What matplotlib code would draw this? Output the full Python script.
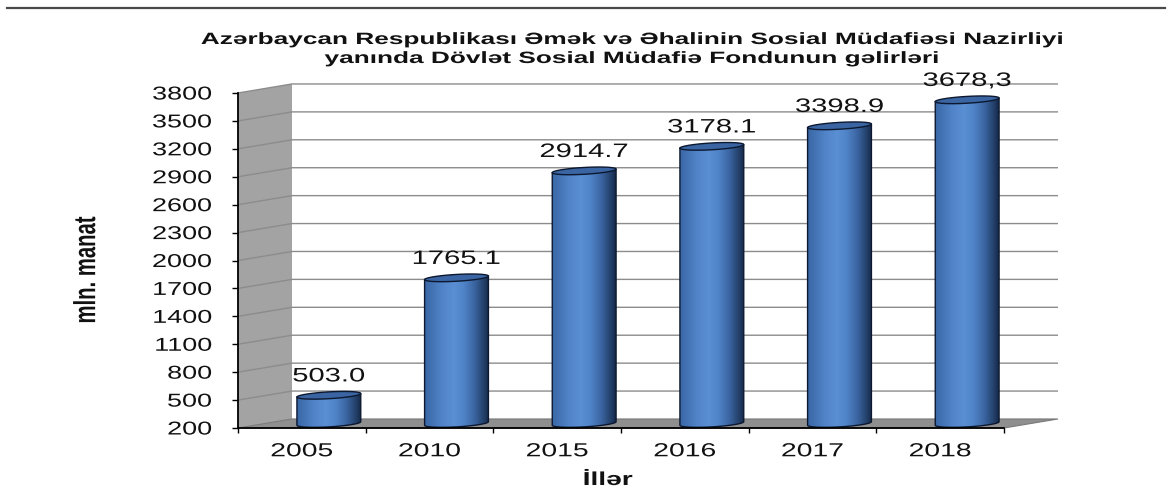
import numpy as np
import matplotlib
matplotlib.use('Agg')
import matplotlib.pyplot as plt
from matplotlib.patches import Polygon, PathPatch
from matplotlib.path import Path
from matplotlib.colors import LinearSegmentedColormap
from matplotlib.patheffects import AbstractPathEffect
from matplotlib.transforms import Affine2D
from matplotlib.lines import Line2D

# ---------------- data ----------------
years = ['2005', '2010', '2015', '2016', '2017', '2018']
values = [503.0, 1765.1, 2914.7, 3178.1, 3398.9, 3678.3]
value_labels = ['503.0', '1765.1', '2914.7', '3178.1', '3398.9', '3678,3']
y_ticks = list(range(200, 3801, 300))
title_line1 = 'Azərbaycan Respublikası Əmək və Əhalinin Sosial Müdafiəsi Nazirliyi'
title_line2 = 'yanında Dövlət Sosial Müdafiə Fondunun gəlirləri'
y_label = 'mln. manat'
x_label = 'İllər'

plt.rcParams['font.family'] = ['Liberation Sans', 'DejaVu Sans']
TXT = '#111111'


class HStretch(AbstractPathEffect):
    """Draw text stretched horizontally (display x) about an anchor."""
    def __init__(self, sx=1.5, anchor='center'):
        super().__init__()
        self.sx = sx
        self.anchor = anchor

    def draw_path(self, renderer, gc, tpath, affine, rgbFace=None):
        v = tpath.vertices
        if v is None or len(v) == 0:
            return
        codes = tpath.codes
        if codes is not None:
            m = (codes != Path.CLOSEPOLY) & (codes != Path.STOP)
            v = v[m]
        if len(v) == 0:
            return
        d = affine.transform(v)
        x0, x1 = d[:, 0].min(), d[:, 0].max()
        a = {'center': 0.5 * (x0 + x1), 'left': x0, 'right': x1}[self.anchor]
        t = affine + Affine2D().translate(-a, 0).scale(self.sx, 1).translate(a, 0)
        renderer.draw_path(gc, tpath, t, rgbFace)


SX = 1.5
W, H = 1172, 499


def fx(px):
    return px / W


def fy(py):
    return 1 - py / H


fig = plt.figure(figsize=(W / 100, H / 100), dpi=100)
fig.patch.set_facecolor('white')

# top rule
fig.add_artist(Line2D([fx(7), fx(1165)], [fy(8), fy(8)], transform=fig.transFigure,
                      color='#4a4a4a', lw=1.6))

ax = fig.add_axes([fx(238), fy(428), fx(1004) - fx(238), fy(93) - fy(428)])
ax.set_xlim(0, 6)
ax.set_ylim(200, 3800)
ax.patch.set_visible(False)

# pseudo-3D depth (in data units)
DX, DY = 0.423, 97.0
n = len(years)
ymin, ymax = y_ticks[0], y_ticks[-1]

# side wall
ax.add_patch(Polygon([(0, ymin), (DX, ymin + DY), (DX, ymax + DY), (0, ymax)], closed=True,
                     facecolor='#a3a3a3', edgecolor='none', clip_on=False, zorder=0))
# back wall
ax.add_patch(Polygon([(DX, ymin + DY), (n + DX, ymin + DY), (n + DX, ymax + DY), (DX, ymax + DY)],
                     closed=True, facecolor='white', edgecolor='none', clip_on=False, zorder=0))
# grid lines on side + back walls
for v in y_ticks[1:]:
    ax.plot([0, DX, n + DX], [v, v + DY, v + DY], color='#8c8c8c', lw=1.0,
            clip_on=False, zorder=1, solid_capstyle='butt')
# floor
ax.add_patch(Polygon([(0, ymin), (n, ymin), (n + DX, ymin + DY), (DX, ymin + DY)], closed=True,
                     facecolor='#8f8f8f', edgecolor='#7a7a7a', lw=0.8, clip_on=False, zorder=1.5))

# cylinders
cyl_cmap = LinearSegmentedColormap.from_list('cyl', [
    (0.0, '#3a67a6'), (0.25, '#4f82c6'), (0.45, '#5b8fd3'), (0.6, '#5084c8'),
    (0.78, '#3a64a0'), (0.92, '#23406a'), (1.0, '#16294a')])
grad = np.linspace(0, 1, 256).reshape(1, -1)
px_per_unit = (428 - 93) / (ymax - ymin)
E = 3.4 / px_per_unit      # ellipse half-height in data units
TILT = 1.8 / px_per_unit   # rise of right end over left end (half)

centers = np.arange(n) + 0.5 + DX / 2
base = ymin + DY / 2
heights = np.array(values) - ymin
bars = ax.bar(centers, heights, bottom=base, width=0.5, color='#4a7cc0',
              edgecolor='none', zorder=3)

t_full = np.linspace(0, 2 * np.pi, 120)
t_half = np.linspace(np.pi, 2 * np.pi, 60)
for rect, lbl in zip(bars.patches, value_labels):
    x0, w = rect.get_x(), rect.get_width()
    y0, h = rect.get_y(), rect.get_height()
    top = y0 + h
    cx = x0 + w / 2
    rect.set_visible(False)
    c_half = np.cos(t_half)
    arc = np.column_stack([cx + w / 2 * c_half, y0 + E * np.sin(t_half) + TILT * c_half])
    verts = np.vstack([[x0, top - TILT], [x0, y0 - TILT], arc, [x0 + w, top + TILT],
                       [x0, top - TILT]])
    codes = [Path.MOVETO] + [Path.LINETO] * (len(verts) - 2) + [Path.CLOSEPOLY]
    body = PathPatch(Path(verts, codes), facecolor='none', edgecolor='#0c1830',
                     lw=1.0, zorder=3.3)
    ax.add_patch(body)
    im = ax.imshow(grad, extent=(x0, x0 + w, y0 - E - TILT, top + TILT), aspect='auto',
                   cmap=cyl_cmap, interpolation='bilinear', zorder=3.1, origin='lower')
    im.set_clip_path(body)
    c_full = np.cos(t_full)
    cap = np.column_stack([cx + w / 2 * c_full, top + E * np.sin(t_full) + TILT * c_full])
    ax.add_patch(Polygon(cap, closed=True, facecolor='#3a65a2', edgecolor='#0c1830',
                         lw=1.0, zorder=3.5))
    ax.annotate(lbl, xy=(cx, top), xytext=(0, 10), textcoords='offset points',
                ha='center', va='baseline', fontsize=14, color=TXT, zorder=6,
                annotation_clip=False, path_effects=[HStretch(SX, 'center')])

ax.set_xlim(0, 6)
ax.set_ylim(200, 3800)

# axes styling
for s in ('top', 'right'):
    ax.spines[s].set_visible(False)
for s in ('left', 'bottom'):
    ax.spines[s].set_color('black')
    ax.spines[s].set_linewidth(1.3)
    ax.spines[s].set_zorder(4)

ax.set_yticks(y_ticks)
ax.set_yticklabels([str(v) for v in y_ticks])
ax.tick_params(axis='y', direction='out', length=4.3, width=1.0, pad=14.4,
               labelsize=13.4, colors='black', labelcolor=TXT)
ax.set_xticks(range(n + 1))
ax.set_xticklabels([''] * (n + 1))
ax.set_xticks(np.arange(n) + 0.5, minor=True)
ax.set_xticklabels(years, minor=True)
ax.tick_params(axis='x', which='major', direction='out', length=3.6, width=1.0)
ax.tick_params(axis='x', which='minor', length=0, pad=11, labelsize=13.6, labelcolor=TXT)

for tl in ax.get_yticklabels():
    tl.set_path_effects([HStretch(1.45, 'right')])
for tl in ax.get_xticklabels(minor=True):
    tl.set_path_effects([HStretch(SX, 'center')])

# titles and axis labels
fig.text(fx(631), fy(44), title_line1, ha='center', va='baseline', fontsize=11.8,
         fontweight='bold', color=TXT, path_effects=[HStretch(1.6, 'center')])
fig.text(fx(631), fy(63), title_line2, ha='center', va='baseline', fontsize=11.8,
         fontweight='bold', color=TXT, path_effects=[HStretch(1.6, 'center')])
fig.text(fx(86), fy(270), y_label, rotation=90, ha='center', va='center', fontsize=14.6,
         fontweight='bold', color=TXT, path_effects=[HStretch(SX, 'center')])
fig.text(fx(608), fy(485), x_label, ha='center', va='baseline', fontsize=13.5,
         fontweight='bold', color=TXT, path_effects=[HStretch(SX, 'center')])

fig.savefig('out.png', dpi=100)
